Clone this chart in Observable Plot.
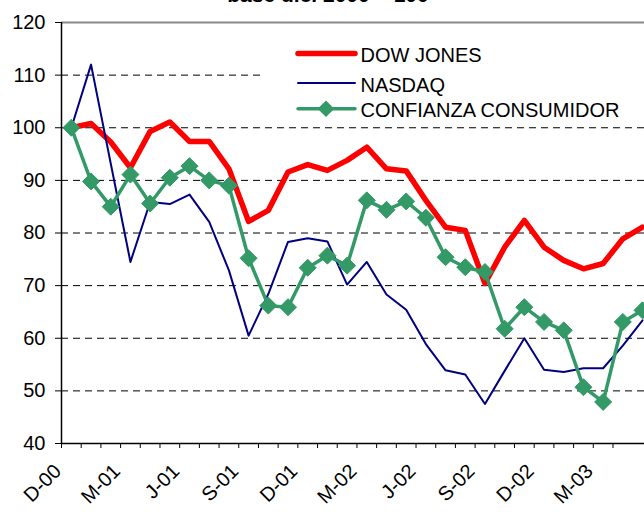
<!DOCTYPE html>
<html>
<head>
<meta charset="utf-8">
<script src="https://cdn.jsdelivr.net/npm/d3@7"></script>
<script src="https://cdn.jsdelivr.net/npm/@observablehq/plot@0.6"></script>
<style>
  html, body { margin: 0; padding: 0; background: #fff; overflow: hidden; }
  #wrap { position: relative; width: 644px; height: 512px; }
  #legend { position: absolute; left: 263px; top: 30px; width: 381px; height: 90px; background: #fff; }
  #legend svg { display: block; font-family: "Liberation Sans", Arial, sans-serif; font-size: 20px; }
</style>
</head>
<body>
<div id="wrap"></div>
<script>
// Months (Spanish abbreviations), Dec 2000 .. May 2003
const categories = ["D-00","E-01","F-01","M-01","A-01","M-01","J-01","J-01","A-01","S-01","O-01","N-01",
  "D-01","E-02","F-02","M-02","A-02","M-02","J-02","J-02","A-02","S-02","O-02","N-02",
  "D-02","E-03","F-03","M-03","A-03","M-03"];
const seriesNames = ["DOW JONES", "NASDAQ", "CONFIANZA CONSUMIDOR"];
const seriesColors = ["#FF0000", "#000080", "#339966"];
const dowJones = [100,100.8,97.3,92.4,99.3,101.1,97.4,97.4,92.2,82.2,84.3,91.6,93.0,91.9,93.8,96.3,92.2,91.8,86.2,81.1,80.5,70.4,77.3,82.4,77.3,74.8,73.2,74.2,78.9,81.1];
const nasdaq = [100,112,93.2,74.5,85.9,85.5,87.3,82.1,72.9,60.5,68.4,78.3,79.0,78.4,70.2,74.5,68.3,65.4,58.9,53.9,53.1,47.5,53.8,60.0,54.0,53.6,54.3,54.3,58.6,63.4];
const confianza = [100,89.8,85.0,91.1,85.6,90.5,92.7,90.0,89.0,75.2,66.2,65.9,73.4,75.7,73.8,86.2,84.4,86.0,82.9,75.4,73.5,72.6,61.8,65.9,63.1,61.5,50.7,47.9,63.1,65.3];
const yTicks = [40,50,60,70,80,90,100,110,120];
const gridValues = [50,60,70,80,90,100,110];
const titleText = "base dic. 2000 = 100";

const idx = categories.map((_, i) => i);
const toRows = arr => arr.map((v, i) => ({i, v}));
const boundaries = categories.slice(0, -1).map((_, i) => i - 0.5);
const labelIdx = idx.filter(i => i % 3 === 0);

const diamond = {
  draw(ctx, size) {
    const h = Math.sqrt(size / Math.PI);
    ctx.moveTo(0, -h); ctx.lineTo(h, 0); ctx.lineTo(0, h); ctx.lineTo(-h, 0); ctx.closePath();
  }
};

const chart = Plot.plot({
  width: 644,
  height: 512,
  marginTop: 22,
  marginBottom: 69,
  marginLeft: 61,
  marginRight: 0,
  style: {fontFamily: "'Liberation Sans', Arial, sans-serif", fontSize: "20px", background: "#fff", color: "#000"},
  x: {type: "linear", domain: [-0.5, 29.1]},
  y: {domain: [40, 120]},
  marks: [
    Plot.ruleY(gridValues, {stroke: "#000", strokeWidth: 1, strokeDasharray: "7,5"}),
    Plot.ruleY([120], {stroke: "#8a8a8a", strokeWidth: 2}),
    Plot.axisY(yTicks, {tickSize: 6, tickPadding: 10, fontSize: 20, label: null, tickFormat: d => String(d)}),
    Plot.axisX(boundaries, {tickSize: 5, tickFormat: () => "", label: null}),
    Plot.ruleX([-0.5], {stroke: "#000", strokeWidth: 1.5}),
    Plot.ruleY([40], {stroke: "#000", strokeWidth: 1.5}),
    Plot.text(labelIdx, {x: d => d, text: d => categories[d], frameAnchor: "bottom", rotate: -45, textAnchor: "end", dx: -9, dy: 29, fontSize: 20}),
    Plot.line(toRows(dowJones), {x: "i", y: "v", stroke: seriesColors[0], strokeWidth: 5.5}),
    Plot.line(toRows(nasdaq), {x: "i", y: "v", stroke: seriesColors[1], strokeWidth: 2}),
    Plot.line(toRows(confianza), {x: "i", y: "v", stroke: seriesColors[2], strokeWidth: 3.5}),
    Plot.dot(toRows(confianza), {x: "i", y: "v", symbol: diamond, r: 8.5, fill: seriesColors[2], stroke: seriesColors[2], strokeWidth: 1}),
    Plot.text([titleText], {text: d => d, frameAnchor: "top", dx: -25, dy: -20.5, lineAnchor: "bottom", fontWeight: "bold", fontSize: 21})
  ]
});

const wrap = document.getElementById("wrap");
wrap.appendChild(chart);

// Legend overlay (white box as in the original)
const legend = document.createElement("div");
legend.id = "legend";
const ns = "http://www.w3.org/2000/svg";
const svg = document.createElementNS(ns, "svg");
svg.setAttribute("width", 381);
svg.setAttribute("height", 90);
const rowY = [23.5, 53, 78.7];
const widths = [5.5, 2, 3.5];
seriesNames.forEach((name, k) => {
  const ln = document.createElementNS(ns, "line");
  ln.setAttribute("x1", 35); ln.setAttribute("x2", 92);
  ln.setAttribute("y1", rowY[k]); ln.setAttribute("y2", rowY[k]);
  ln.setAttribute("stroke", seriesColors[k]);
  ln.setAttribute("stroke-width", widths[k]);
  ln.setAttribute("stroke-linecap", "round");
  svg.appendChild(ln);
  if (k === 2) {
    const p = document.createElementNS(ns, "path");
    const cx = 63, cy = rowY[k], h = 8.3;
    p.setAttribute("d", `M${cx},${cy-h}L${cx+h},${cy}L${cx},${cy+h}L${cx-h},${cy}Z`);
    p.setAttribute("fill", seriesColors[k]);
    svg.appendChild(p);
  }
  const t = document.createElementNS(ns, "text");
  t.setAttribute("x", 97.5);
  t.setAttribute("y", rowY[k] + 1.7);
  t.setAttribute("dy", "0.35em");
  t.setAttribute("fill", "#000");
  t.textContent = name;
  svg.appendChild(t);
});
legend.appendChild(svg);
wrap.appendChild(legend);
</script>
</body>
</html>
